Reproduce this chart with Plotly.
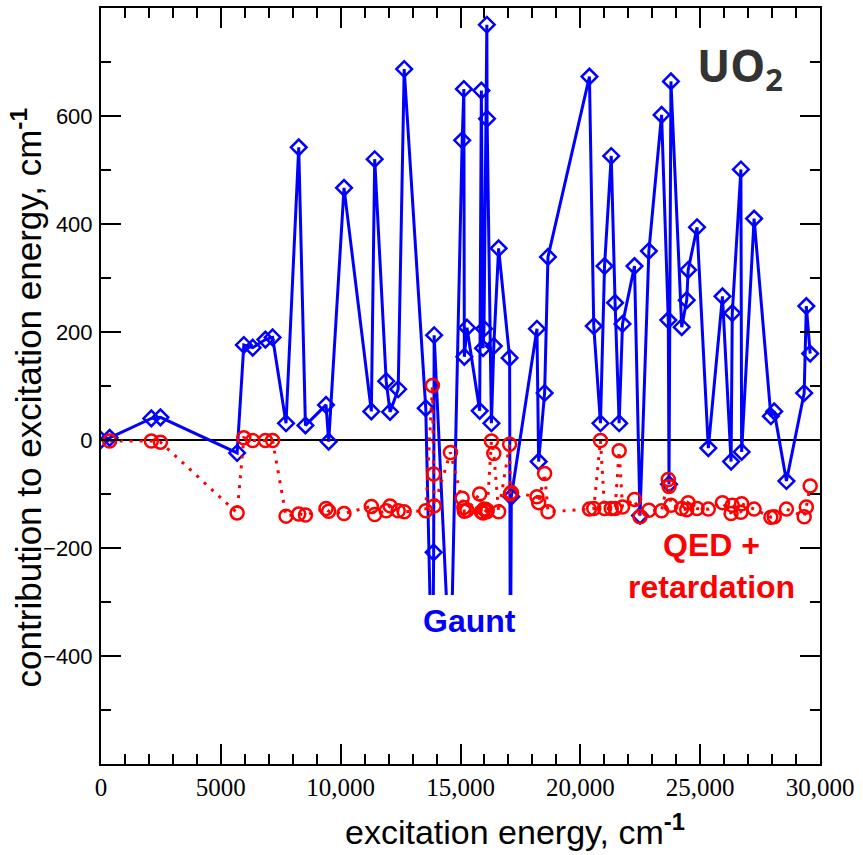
import plotly.graph_objects as go

# excitation energies of the states (cm-1)
energy = [0, 360, 2100, 2480, 5680, 5960, 6330, 6860, 7160, 7720, 8250, 8530, 9390, 9500,
          10140, 11280, 11420, 11900, 12060, 12400, 12650, 13550, 13830, 13880, 13900, 14580,
          15070, 15140, 15160, 15270, 15800, 15870, 15940, 15980, 16100, 16110, 16290, 16390,
          16590, 17050, 17080, 17120, 18190, 18260, 18510, 18650, 20380, 20560, 20840, 21010,
          21290, 21450, 21620, 21760, 22260, 22490, 22860, 23390, 23670, 23700, 23780, 24230,
          24440, 24500, 24870, 25340, 25930, 26290, 26340, 26700, 26730, 27250, 27950, 28090,
          28600, 29340, 29430, 29590]

# Gaunt contribution (cm-1); values below about -287 run off the drawn window
gaunt = [0, 4, 40, 42, -24, 176, 171, 186, 190, 31, 542, 27, 65, -3, 467, 53, 520, 109, 52,
         94, 687, 59, -500, -208, 194, -452, 555, 650, 154, 208, 54, 647, 170, 206, 769, 595,
         31, 174, 355, 152, -500, -105, 206, -40, 87, 339, 673, 211, 31, 322, 526, 254, 31,
         215, 322, -140, 350, 602, 222, -82, 664, 209, 259, 315, 394, -15, 266, -40, 235, 501,
         -22, 410, 44, 53, -76, 87, 248, 160]

# QED + retardation contribution (cm-1)
qed = [None, -2, -2, -4, -135, 4, -1, -1, -1, -141, -137, -139, -127, -132, -136, -123, -138,
       -131, -122, -131, -133, -131, 101, -63, -122, -23, -108, -125, -132, -130, -100, -133,
       -135, -128, -133, -130, -2, -25, -133, -8, -100, -97, -105, -116, -62, -133, -128, -127,
       -1, -127, -127, -127, -20, -124, -110, -142, -130, -131, -73, -86, -121, -127, -129,
       -116, -127, -128, -116, -136, -121, -134, -118, -128, -143, -142, -128, -142, -124, -85]

x_tickvals = [0, 5000, 10000, 15000, 20000, 25000, 30000]
x_ticktext = ["0", "5000", "10,000", "15,000", "20,000", "25,000", "30,000"]
y_tickvals = [-400, -200, 0, 200, 400, 600]

BLUE = "#0000FF"
RED = "#FF0000"

fig = go.Figure()
fig.add_trace(go.Scatter(
    x=energy, y=gaunt, mode="lines+markers",
    line=dict(color=BLUE, width=3),
    marker=dict(symbol="diamond-open", size=12, color=BLUE, line=dict(width=2.5, color=BLUE)),
    name="Gaunt"))
fig.add_trace(go.Scatter(
    x=energy, y=qed, mode="lines+markers",
    line=dict(color=RED, width=3, dash="3px,7px"),
    marker=dict(symbol="circle-open", size=13, color=RED, line=dict(width=2.5, color=RED)),
    name="QED + retardation"))

# white band where the Gaunt curves leave the drawing window
fig.add_shape(type="rect", xref="x", yref="y", x0=13300, x1=17700, y0=-560, y1=-287,
              fillcolor="white", line=dict(width=0), layer="above")

fig.add_annotation(x=26650, y=689, text="<b>UO<sub>2</sub></b>", showarrow=False,
                   font=dict(family="Open Sans", size=44, color="#333333"))
fig.add_annotation(x=15385, y=-335, text="<b>Gaunt</b>", showarrow=False,
                   font=dict(family="Liberation Sans", size=32, color=BLUE))
fig.add_annotation(x=25470, y=-233, text="<b>QED +<br>retardation</b>", showarrow=False,
                   align="center", font=dict(family="Liberation Sans", size=32, color=RED))

# axis titles
fig.add_annotation(xref="paper", yref="paper", x=0.576, y=-0.0873, xanchor="center",
                   yanchor="middle", showarrow=False,
                   text="excitation energy, cm<sup><b>-1</b></sup>",
                   font=dict(family="Liberation Sans", size=34, color="black"))
fig.add_annotation(xref="paper", yref="paper", x=-0.1035, y=0.4844, xanchor="center",
                   yanchor="middle", showarrow=False, textangle=-90,
                   text="contribution to excitation energy, cm<sup><b>-1</b></sup>",
                   font=dict(family="Liberation Sans", size=35, color="black"))

axis_common = dict(showline=True, linecolor="black", linewidth=2, mirror="allticks",
                   ticks="inside", ticklen=20, tickwidth=1.5, tickcolor="black",
                   showgrid=False, automargin=False)

fig.update_xaxes(range=[0, 30000], tickmode="array", tickvals=x_tickvals, ticktext=x_ticktext,
                 zeroline=False,
                 minor=dict(tickmode="linear", tick0=0, dtick=1000, ticks="inside", ticklen=10,
                            tickwidth=1.5, tickcolor="black", showgrid=False),
                 tickfont=dict(family="Liberation Serif", size=25, color="black"),
                 **axis_common)
fig.update_yaxes(range=[-600, 800], tickmode="array", tickvals=y_tickvals,
                 zeroline=True, zerolinecolor="black", zerolinewidth=1.5,
                 minor=dict(tickmode="linear", tick0=0, dtick=100, ticks="inside", ticklen=10,
                            tickwidth=1.5, tickcolor="black", showgrid=False),
                 tickfont=dict(family="Liberation Sans", size=22, color="black"),
                 ticklabelstandoff=2,
                 **axis_common)

fig.update_layout(width=863, height=855, margin=dict(l=101, r=43, t=8, b=91),
                  plot_bgcolor="white", paper_bgcolor="white", showlegend=False)

fig.write_html("out.html", config={"displayModeBar": False},
               post_script="document.body.style.margin='0';")
